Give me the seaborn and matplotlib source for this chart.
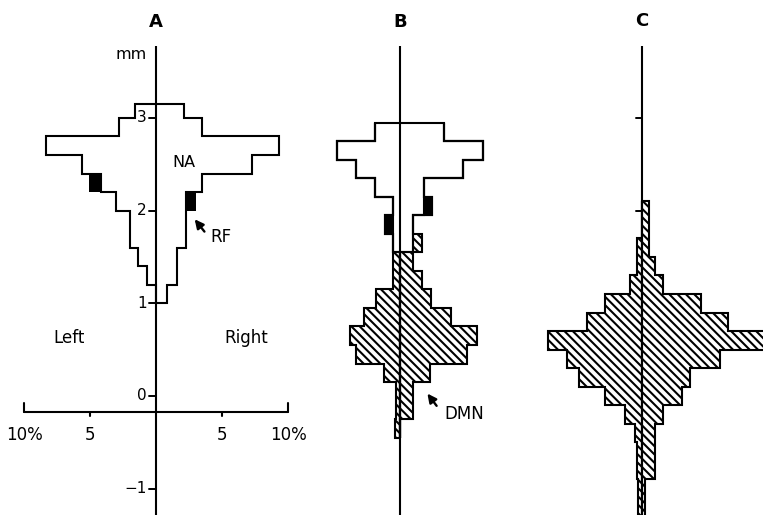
import numpy as np
import matplotlib
matplotlib.use("Agg")
import matplotlib.pyplot as plt
import seaborn as sns

# depth bins (mm, top -> bottom) and percentages per side
a_edges = [3.15, 3.0, 2.8, 2.6, 2.4, 2.2, 2.0, 1.8, 1.6, 1.4, 1.2, 1.0]
a_na_left = [1.6, 2.8, 8.3, 5.6, 4.2, 3.0, 2.0, 2.0, 1.4, 0.7, 0.0]
a_na_right = [2.1, 3.5, 9.3, 7.3, 3.5, 2.3, 2.3, 2.3, 1.6, 1.6, 0.8]
a_rf_left = [0, 0, 0, 0, 0.9, 0, 0, 0, 0, 0, 0]
a_rf_right = [0, 0, 0, 0, 0, 0.7, 0, 0, 0, 0, 0]

b_edges = [2.95, 2.75, 2.55, 2.35, 2.15, 1.95, 1.75, 1.55, 1.35, 1.15,
           0.95, 0.75, 0.55, 0.35, 0.15, -0.05, -0.25, -0.45]
b_na_left = [1.9, 4.8, 3.3, 1.9, 0.5, 0.5, 0.5, 0, 0, 0, 0, 0, 0, 0, 0, 0, 0]
b_na_right = [3.3, 6.3, 4.8, 1.8, 1.8, 1.0, 1.0, 0, 0, 0, 0, 0, 0, 0, 0, 0, 0]
b_rf_left = [0, 0, 0, 0, 0, 0.6, 0, 0, 0, 0, 0, 0, 0, 0, 0, 0, 0]
b_rf_right = [0, 0, 0, 0, 0.6, 0, 0, 0, 0, 0, 0, 0, 0, 0, 0, 0, 0]
b_dmn_left = [0, 0, 0, 0, 0, 0, 0, 0.5, 0.5, 1.8, 2.7, 3.8, 3.3, 1.2, 0.3, 0.3, 0.35]
b_dmn_right = [0, 0, 0, 0, 0, 0, 0.7, 1.0, 1.7, 2.35, 3.9, 5.8, 5.1, 2.3, 1.0, 1.0, 0]

c_edges = [2.1, 1.9, 1.7, 1.5, 1.3, 1.1, 0.9, 0.7, 0.5, 0.3, 0.1,
           -0.1, -0.3, -0.5, -0.7, -0.9, -1.1, -1.3]
c_dmn_left = [0, 0, 0.4, 0.4, 0.9, 2.8, 4.2, 7.1, 5.7, 4.8, 2.8, 1.3, 0.5, 0.4, 0.4, 0.3, 0.3]
c_dmn_right = [0.5, 0.5, 0.5, 1.0, 1.6, 4.5, 6.5, 9.8, 5.9, 3.6, 3.0, 1.6, 1.0, 1.0, 1.0, 0.25, 0.25]

x_ticks = [-10, -5, 5, 10]
x_tick_labels = ["10%", "5", "5", "10%"]
y_ticks = [3, 2, 1, 0, -1]
y_tick_labels = ["3", "2", "1", "0", "\u22121"]

sns.set_theme(style="white")
plt.rcParams["font.family"] = ["DejaVu Sans"]
plt.rcParams["text.color"] = "black"
plt.rcParams["hatch.linewidth"] = 1.5
plt.rcParams["hatch.color"] = "black"

W, H = 763, 515
PX_PCT = 13.2   # pixels per percent
PX_MM = 92.7    # pixels per mm
Y0 = 396        # pixel row of 0 mm

fig = plt.figure(figsize=(W / 100, H / 100), dpi=100)
fig.patch.set_facecolor("white")


def panel(x0, x1, cx):
    ax = fig.add_axes([x0 / W, 0, (x1 - x0) / W, 1])
    ax.set_xlim((x0 - cx) / PX_PCT, (x1 - cx) / PX_PCT)
    ax.set_ylim((Y0 - H) / PX_MM, Y0 / PX_MM)
    ax.axis("off")
    return ax


def outline(ax, edges, left, right):
    e = np.asarray(edges, float)[::-1]
    for vals, s in ((left, -1), (right, 1)):
        v = np.asarray(vals, float)[::-1]
        ax.stairs(s * v, e, baseline=0, orientation="horizontal", fill=False,
                  color="black", lw=1.5, zorder=3)


def stacked(ax, edges, vals, base, side, **kw):
    e = np.asarray(edges, float)[::-1]
    v = np.asarray(vals, float)[::-1]
    b = np.asarray(base, float)[::-1]
    ax.stairs(side * (b + v), e, baseline=side * b, orientation="horizontal",
              fill=True, **kw)


def hatched(ax, edges, left, right, base_left, base_right):
    for vals, base, s in ((left, base_left, -1), (right, base_right, 1)):
        stacked(ax, edges, vals, base, s, facecolor="white", edgecolor="black",
                hatch="\\\\\\\\", lw=1.5, zorder=2)


def black(ax, edges, left, right, base_left, base_right):
    for vals, base, s in ((left, base_left, -1), (right, base_right, 1)):
        stacked(ax, edges, vals, base, s, color="black", lw=0, zorder=4)


def axis_line(ax):
    ax.plot([0, 0], [3.78, -1.4], color="black", lw=1.5, zorder=5,
            solid_capstyle="butt")


# ---------------- panel A ----------------
axA = panel(0, 300, 156)
outline(axA, a_edges, a_na_left, a_na_right)
black(axA, a_edges, a_rf_left, a_rf_right, a_na_left, a_na_right)
axis_line(axA)
for t, lab in zip(y_ticks, y_tick_labels):
    axA.plot([-0.55, 0], [t, t], color="black", lw=1.4, zorder=5)
    axA.text(-0.7, t, lab, ha="right", va="center", fontsize=11)
xa_y = -0.175
axA.plot([-10, 10], [xa_y, xa_y], color="black", lw=1.5, zorder=5)
for t, lab in zip(x_ticks, x_tick_labels):
    if abs(t) == 10:
        axA.plot([t, t], [xa_y, xa_y + 0.1], color="black", lw=1.5)
    else:
        axA.plot([t, t], [xa_y, xa_y - 0.04], color="black", lw=1.5)
    axA.text(t, -0.42, lab, ha="center", va="center", fontsize=12)
axA.text(0, 4.03, "A", ha="center", va="center", fontsize=13, fontweight="bold")
axA.text(-1.9, 3.68, "mm", ha="center", va="center", fontsize=11.5)
axA.text(2.1, 2.52, "NA", ha="center", va="center", fontsize=11.5)
axA.text(4.9, 1.71, "RF", ha="center", va="center", fontsize=12)
axA.annotate("", xy=(2.8, 1.93), xytext=(3.8, 1.75),
             arrowprops=dict(arrowstyle="-|>", color="black", lw=1.7,
                             mutation_scale=13))
axA.text(-6.6, 0.63, "Left", ha="center", va="center", fontsize=12)
axA.text(6.8, 0.63, "Right", ha="center", va="center", fontsize=12)

# ---------------- panel B ----------------
axB = panel(300, 530, 400)
b_base_left = [n + r for n, r in zip(b_na_left, b_rf_left)]
b_base_right = [n + r for n, r in zip(b_na_right, b_rf_right)]
hatched(axB, b_edges, b_dmn_left, b_dmn_right, b_base_left, b_base_right)
outline(axB, b_edges, b_na_left, b_na_right)
black(axB, b_edges, b_rf_left, b_rf_right, b_na_left, b_na_right)
axis_line(axB)
axB.text(0, 4.03, "B", ha="center", va="center", fontsize=13, fontweight="bold")
axB.text(4.85, -0.19, "DMN", ha="center", va="center", fontsize=12)
axB.annotate("", xy=(1.95, 0.05), xytext=(2.9, -0.13),
             arrowprops=dict(arrowstyle="-|>", color="black", lw=1.7,
                             mutation_scale=13))

# ---------------- panel C ----------------
axC = panel(530, 763, 642)
czero = [0] * len(c_dmn_left)
hatched(axC, c_edges, c_dmn_left, c_dmn_right, czero, czero)
axis_line(axC)
for t in (3, 2):
    axC.plot([-0.45, 0], [t, t], color="black", lw=1.4, zorder=5)
axC.text(-0.05, 4.05, "C", ha="center", va="center", fontsize=13, fontweight="bold")

fig.savefig("out.png", dpi=100, facecolor="white")
